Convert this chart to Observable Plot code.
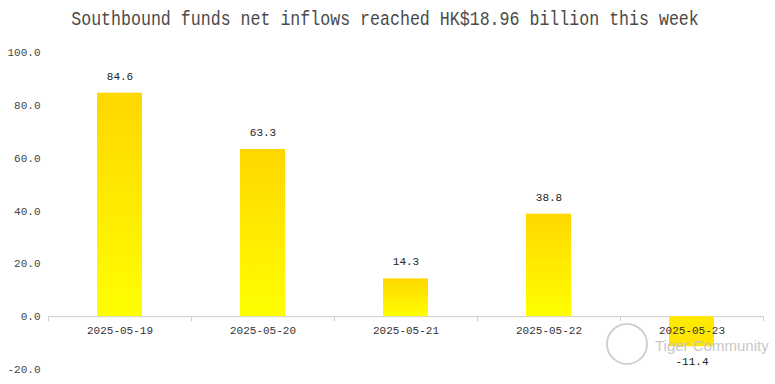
<!DOCTYPE html>
<html><head><meta charset="utf-8">
<script src="https://cdn.jsdelivr.net/npm/d3@7"></script>
<script src="https://cdn.jsdelivr.net/npm/@observablehq/plot@0.6"></script>
<style>
body{margin:0;background:#fff;}
#wrap{width:775px;height:384px;position:relative;}
#title{height:39px;text-align:center;position:relative;}
#title span{position:absolute;left:385px;top:9px;white-space:nowrap;transform:translateX(-50%) scaleX(0.83);font-family:"Liberation Mono","DejaVu Sans Mono",monospace;font-size:20px;line-height:22px;color:#4a4a4a;}
#wm{position:absolute;left:655px;top:337px;font-family:"Liberation Sans",Arial,sans-serif;font-size:15px;color:#c8c8c8;}
#logo{position:absolute;left:606px;top:323px;width:42px;height:42px;border:2px solid #d0d0d0;border-radius:50%;box-sizing:border-box;}
</style></head>
<body><div id="wrap"><div id="title"><span>Southbound funds net inflows reached HK$18.96 billion this week</span></div><div id="chart"></div><div id="logo"></div><div id="wm">Tiger Community</div></div>
<script>
const dates = ["2025-05-19","2025-05-20","2025-05-21","2025-05-22","2025-05-23"];
const values = [84.6, 63.3, 14.3, 38.8, -11.4];
const yTicks = [-20, 0, 20, 40, 60, 80, 100];

const data = dates.map((d, i) => ({date: d, value: values[i]}));
const W = 775, H = 345, ML = 48, MR = 12;
const bw = (W - ML - MR) / dates.length;
const inset = (bw - 45) / 2;
const font = '"Liberation Mono","DejaVu Sans Mono",monospace';

const chart = Plot.plot({
  width: W, height: H,
  marginLeft: ML, marginRight: MR, marginTop: 13, marginBottom: 15,
  style: {fontFamily: font, fontSize: "11px", color: "#444", background: "#fff"},
  x: {domain: dates, padding: 0, axis: null},
  y: {domain: [-20, 100], ticks: yTicks, tickFormat: d => d.toFixed(1), tickSize: 0, tickPadding: 8, label: null},
  marks: [
    Plot.ruleY([0], {stroke: "#cccccc"}),
    Plot.barY(data.filter(d => d.value >= 0), {x: "date", y: "value", fill: "url(#barGrad)", insetLeft: inset, insetRight: inset}),
    Plot.barY(data.filter(d => d.value < 0), {x: "date", y: "value", fill: "url(#negGrad)", insetLeft: inset, insetRight: inset}),
    Plot.ruleX(dates, {x: d => d, y1: 0, y2: -1.9, dx: -bw / 2, stroke: "#cccccc"}),
    Plot.ruleX(dates.slice(-1), {x: d => d, y1: 0, y2: -1.9, dx: bw / 2, stroke: "#cccccc"}),
    Plot.text(dates, {x: d => d, y: 0, dy: 14, text: d => d, fill: "#333", fontSize: 11}),
    Plot.text(data.filter(d => d.value >= 0), {x: "date", y: "value", text: d => d.value.toFixed(1), dy: -17, fill: "#222", fontSize: 11}),
    Plot.text(data.filter(d => d.value < 0), {x: "date", y: "value", text: d => d.value.toFixed(1), dy: 15, fill: "#222", fontSize: 11})
  ]
});

const svg = d3.select(chart);
const defs = svg.insert("defs", ":first-child");
const g = defs.append("linearGradient").attr("id", "barGrad").attr("x1", 0).attr("y1", 0).attr("x2", 0).attr("y2", 1);
g.append("stop").attr("offset", "0%").attr("stop-color", "#ffd700");
g.append("stop").attr("offset", "100%").attr("stop-color", "#ffff00");
const n = defs.append("linearGradient").attr("id", "negGrad").attr("x1", 0).attr("y1", 0).attr("x2", 0).attr("y2", 1);
n.append("stop").attr("offset", "0%").attr("stop-color", "#ffea00");
n.append("stop").attr("offset", "100%").attr("stop-color", "#ffe400");
document.getElementById("chart").append(chart);
</script></body></html>
